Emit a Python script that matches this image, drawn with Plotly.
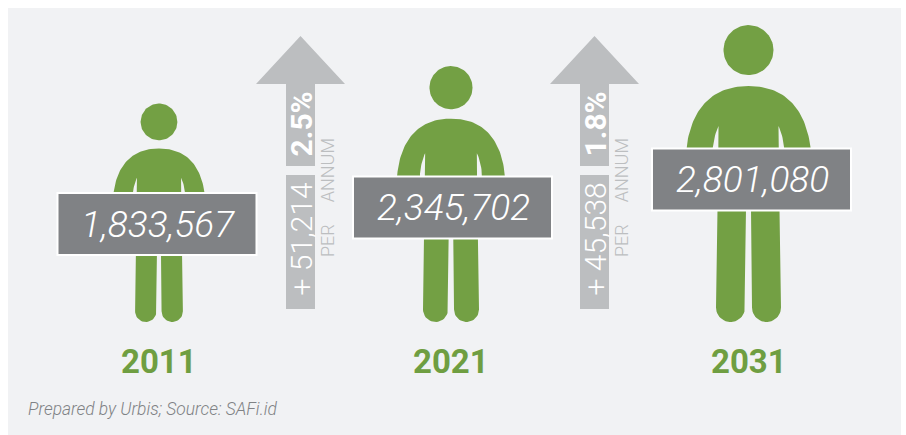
import numpy as np
import plotly.graph_objects as go

# Population figures and growth between census years
YEARS = ["2011", "2021", "2031"]
POPULATION = [1833567, 2345702, 2801080]
GROWTH_RATE = ["2.5%", "1.8%"]
ANNUAL_INCREASE = ["+ 51,214", "+ 45,538"]
SOURCE_NOTE = "Prepared by Urbis; Source: SAFi.id"

W, H = 906, 435
GREEN = "#73a044"
YEAR_GREEN = "#6f9e41"
SIGN_GREY = "#808285"
ARROW_GREY = "#bcbec0"
PANEL = "#f1f2f4"
NUM_FONT = "Roboto"

FIGURE_X = [159, 451, 748.5]
FIGURE_BASE = 322
SIGN_X = [157, 452.5, 751.5]
SIGN_Y = [224, 207.5, 179.5]
SIGN_W, SIGN_H = 197, 60
ARROW_X = [300.5, 594.5]


def icon_height(value):
    # Icons grow with the square of the population (in millions)
    return 159.6 + 17.5 * (value / 1e6) ** 2


def bezier(p0, p1, p2, p3, n=40):
    t = np.linspace(0, 1, n)[:, None]
    p0, p1, p2, p3 = map(np.array, (p0, p1, p2, p3))
    return (1 - t) ** 3 * p0 + 3 * (1 - t) ** 2 * t * p1 + 3 * (1 - t) * t ** 2 * p2 + t ** 3 * p3


def body_outline():
    """Silhouette of the torso and legs, in units where the full figure is 297 tall."""
    shoulder = bezier((0, 236), (38, 236), (57, 212), (62, 175))
    armpit = bezier((36, 172), (35, 182), (33, 190), (30, 196), 12)
    theta = np.linspace(0, -np.pi, 24)
    foot = np.column_stack([18 + 14.5 * np.cos(theta), 14.5 + 14.5 * np.sin(theta)])
    right = np.vstack([
        shoulder,
        [(63, 165), (36, 165)],
        armpit,
        [(30.5, 130), (31, 113)],
        foot,
        [(2.5, 113), (2.5, 130), (0, 130)],
    ])
    left = right[::-1] * np.array([-1, 1])
    return np.vstack([right, left]) / 297


BODY = body_outline()
HEAD_ANGLE = np.linspace(0, 2 * np.pi, 80)

fig = go.Figure()

# Background panel
fig.add_shape(type="rect", x0=8, x1=901, y0=8, y1=H, xref="x", yref="y",
              fillcolor=PANEL, line_width=0, layer="below")


def add_fill(xs, ys, color):
    fig.add_trace(go.Scatter(x=xs, y=ys, mode="lines", fill="toself", fillcolor=color,
                             line=dict(width=0, color=color), hoverinfo="skip", showlegend=False))


# One figure per year, its height set by the population it stands for
for cx, value in zip(FIGURE_X, POPULATION):
    h = icon_height(value)
    add_fill(cx + BODY[:, 0] * h, FIGURE_BASE - BODY[:, 1] * h, GREEN)
    r = h * 25 / 297
    add_fill(cx + r * np.cos(HEAD_ANGLE), FIGURE_BASE - h + r + r * np.sin(HEAD_ANGLE), GREEN)

# Growth arrows between the figures
for ax in ARROW_X:
    add_fill([ax - 44.5, ax, ax + 44.5, ax + 14.5, ax + 14.5, ax - 14.5, ax - 14.5, ax - 44.5],
             [84, 36, 84, 84, 166, 166, 84, 84], ARROW_GREY)
    add_fill([ax - 14.5, ax + 14.5, ax + 14.5, ax - 14.5, ax - 14.5],
             [175, 175, 309, 309, 175], ARROW_GREY)

# Signs held by each figure
for sx, sy in zip(SIGN_X, SIGN_Y):
    fig.add_shape(type="rect", x0=sx - SIGN_W / 2 - 1, x1=sx + SIGN_W / 2 + 1,
                  y0=sy - SIGN_H / 2 - 1, y1=sy + SIGN_H / 2 + 1, xref="x", yref="y",
                  fillcolor=SIGN_GREY, line=dict(color="white", width=2), layer="above")


def label(x, y, text, size, color, angle=0, family=NUM_FONT, style="normal", weight="normal"):
    fig.add_annotation(x=x, y=y, xref="x", yref="y", text=text, showarrow=False, textangle=angle,
                       font=dict(family=family, size=size, color=color, style=style, weight=weight),
                       xanchor="center", yanchor="middle")


for sx, sy, value in zip(SIGN_X, SIGN_Y, POPULATION):
    label(sx + 1, sy, f"{value:,}", 37, "white", style="italic", weight=300)

for cx, year in zip(FIGURE_X, YEARS):
    label(cx, 361, year, 33, YEAR_GREEN, weight="bold")

for ax, rate, inc in zip(ARROW_X, GROWTH_RATE, ANNUAL_INCREASE):
    label(ax, 124, rate, 30, "white", angle=-90, weight="bold")
    label(ax, 239, inc, 30, "white", angle=-90, weight=300)
    label(ax + 26.5, 198, "PER\u2003\u2009ANNUM", 18, ARROW_GREY, angle=-90, weight=300)

fig.add_annotation(x=26, y=409, xref="x", yref="y", text=SOURCE_NOTE, showarrow=False,
                   xanchor="left", yanchor="middle",
                   font=dict(family="Roboto", size=17.4, color="#808285", style="italic", weight=300))

fig.update_layout(
    width=W, height=H, autosize=False, margin=dict(l=0, r=0, t=0, b=0),
    paper_bgcolor="white", plot_bgcolor="white", showlegend=False,
    xaxis=dict(range=[0, W], visible=False, fixedrange=True),
    yaxis=dict(range=[H, 0], visible=False, fixedrange=True),
)

fig.write_html("out.html", config={"displayModeBar": False})
